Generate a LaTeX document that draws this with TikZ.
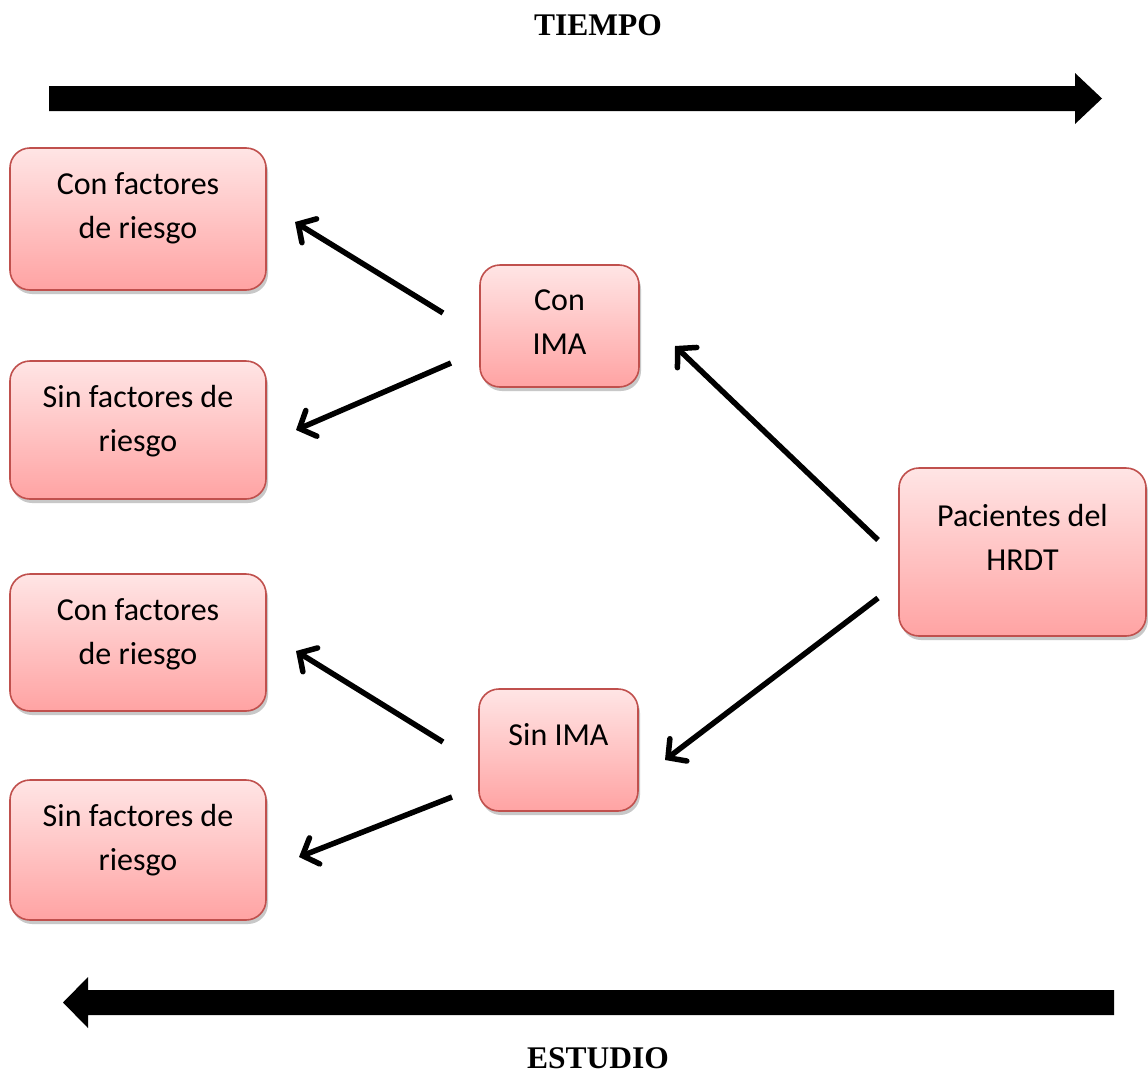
\documentclass[tikz,border=0pt]{standalone}
\usepackage{fontspec}
\setmainfont{Carlito}
\newfontfamily\titlefont{Liberation Serif}
\usetikzlibrary{arrows.meta,shadows}
\definecolor{boxedge}{RGB}{192,80,77}
\definecolor{boxtop}{RGB}{255,229,229}
\definecolor{boxbot}{RGB}{255,163,163}
\newcommand\shiftup[2]{\raisebox{#1}[\height][\depth]{\begin{tabular}{@{}c@{}}#2\end{tabular}}}
\tikzset{
  box/.style={draw=boxedge, line width=1.6pt, rounded corners=20pt,
    top color=boxtop, bottom color=boxbot, inner sep=0pt,
    drop shadow={shadow xshift=2pt, shadow yshift=-4pt, opacity=0.3, fill=black!70},
    font=\fontsize{32}{44}\selectfont, text=black},
  ttl/.style={font=\titlefont\bfseries\fontsize{31.5}{37}\selectfont, text=black, inner sep=0pt},
  conn/.style={line width=5.5pt, draw=black, -{Straight Barb[length=13pt,width=28pt,line cap=round]}},
  bigarrow/.style={fill=black, draw=none},
}
\begin{document}
\begin{tikzpicture}[x=1pt,y=-1pt]
\useasboundingbox (0,0) rectangle (1148,1076);
\fill[white] (0,0) rectangle (1148,1076);

% titles
\node[ttl] (tiempo) at (598,25) {TIEMPO};
\node[ttl] (estudio) at (598,1058) {ESTUDIO};

% big arrows
\fill[bigarrow] (49,86) -- (1075,86) -- (1075,73) -- (1102,98.5) -- (1075,124) -- (1075,111) -- (49,111) -- cycle;
\fill[bigarrow] (1114,990) -- (88,990) -- (88,977) -- (63,1002.5) -- (88,1028) -- (88,1015) -- (1114,1015) -- cycle;

% boxes
\node[box, minimum width=256pt, minimum height=142pt] (cf1) at (138,219) {\shiftup{11pt}{Con factores\\de riesgo}};
\node[box, minimum width=256pt, minimum height=138pt] (sf1) at (138,430) {\shiftup{9pt}{Sin factores de\\riesgo}};
\node[box, minimum width=256pt, minimum height=137pt] (cf2) at (138,642.5) {\shiftup{8.5pt}{Con factores\\de riesgo}};
\node[box, minimum width=256pt, minimum height=140pt] (sf2) at (138,850) {\shiftup{10pt}{Sin factores de\\riesgo}};
\node[box, minimum width=159pt, minimum height=122pt] (conima) at (559.5,326) {\shiftup{2pt}{Con\\IMA}};
\node[box, minimum width=159pt, minimum height=122pt] (sinima) at (558.5,750) {\shiftup{13pt}{Sin IMA}};
\node[box, minimum width=247pt, minimum height=168pt] (pac) at (1022.5,552) {\shiftup{12pt}{Pacientes del\\HRDT}};

% connector end points
\coordinate (p1) at (878,540);
\coordinate (p1e) at (675,346);
\coordinate (p2) at (878,598);
\coordinate (p2e) at (665,760);
\coordinate (c1) at (443,313);
\coordinate (c1e) at (295,222);
\coordinate (c2) at (451,363);
\coordinate (c2e) at (296,430);
\coordinate (s1) at (443,742);
\coordinate (s1e) at (296,651);
\coordinate (s2) at (452,797);
\coordinate (s2e) at (299,857);

\draw[conn] (p1) -- (p1e);
\draw[conn] (p2) -- (p2e);
\draw[conn] (c1) -- (c1e);
\draw[conn] (c2) -- (c2e);
\draw[conn] (s1) -- (s1e);
\draw[conn] (s2) -- (s2e);
\end{tikzpicture}
\end{document}
